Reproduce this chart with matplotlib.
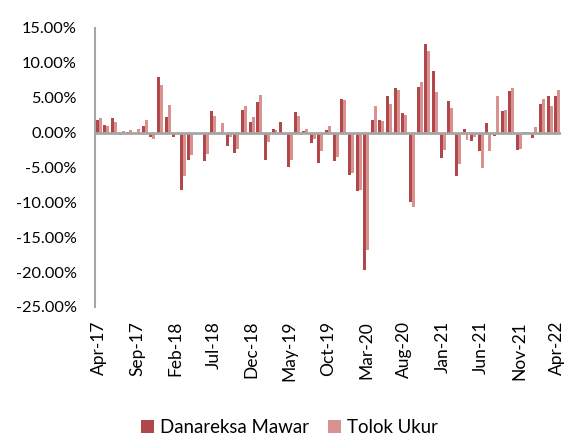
import matplotlib
matplotlib.use("Agg")
import matplotlib.pyplot as plt
import numpy as np

# monthly returns (%), Apr-17 .. Apr-22
months = ["Apr-17", "May-17", "Jun-17", "Jul-17", "Aug-17", "Sep-17", "Oct-17", "Nov-17",
          "Dec-17", "Jan-18", "Feb-18", "Mar-18", "Apr-18", "May-18", "Jun-18", "Jul-18",
          "Aug-18", "Sep-18", "Oct-18", "Nov-18", "Dec-18", "Jan-19", "Feb-19", "Mar-19",
          "Apr-19", "May-19", "Jun-19", "Jul-19", "Aug-19", "Sep-19", "Oct-19", "Nov-19",
          "Dec-19", "Jan-20", "Feb-20", "Mar-20", "Apr-20", "May-20", "Jun-20", "Jul-20",
          "Aug-20", "Sep-20", "Oct-20", "Nov-20", "Dec-20", "Jan-21", "Feb-21", "Mar-21",
          "Apr-21", "May-21", "Jun-21", "Jul-21", "Aug-21", "Sep-21", "Oct-21", "Nov-21",
          "Dec-21", "Jan-22", "Feb-22", "Mar-22", "Apr-22"]

danareksa_mawar = [1.77, 1.05, 2.06, -0.30, 0.05, -0.15, 0.96, -0.62,
                   7.90, 2.25, -0.57, -8.23, -3.97, -0.05, -4.00, 3.06,
                   0.03, -1.93, -2.87, 3.25, 1.53, 4.35, -3.92, 0.57,
                   1.48, -4.93, 2.92, 0.20, -1.53, -4.40, 0.43, -4.11,
                   4.78, -6.12, -8.42, -19.66, 1.77, 1.77, 5.20, 6.36,
                   2.82, -9.90, 6.55, 12.77, 8.80, -3.59, 4.50, -6.27,
                   0.53, -1.24, -2.63, 1.34, -0.48, 3.11, 5.98, -2.54,
                   0.05, -0.77, 4.16, 5.21, 5.26]

tolok_ukur = [2.06, 0.88, 1.58, 0.22, 0.40, 0.57, 1.77, -0.96,
              6.80, 3.92, -0.08, -6.20, -3.16, -0.24, -3.10, 2.34,
              1.37, -0.70, -2.42, 3.83, 2.25, 5.40, -1.34, 0.38,
              -0.29, -3.88, 2.39, 0.48, -0.96, -2.63, 0.91, -3.49,
              4.73, -5.74, -8.28, -16.84, 3.88, 1.67, 4.16, 6.17,
              2.58, -10.62, 7.27, 11.72, 5.84, -2.44, 3.54, -4.50,
              -1.00, -0.62, -5.02, -2.63, 5.26, 3.25, 6.46, -2.30,
              0.08, 0.81, 4.83, 3.83, 6.08]

series_names = ["Danareksa Mawar", "Tolok Ukur"]
colors = ["#B0474A", "#D8928F"]

plt.rcParams["font.family"] = ["Lato", "DejaVu Sans"]

fig = plt.figure(figsize=(5.64, 4.37), dpi=100)
ax = fig.add_axes([0.1684, 0.2975, 0.8263, 0.6385])

x = np.arange(len(months))
w = 0.39
ax.bar(x - w / 2, danareksa_mawar, width=w, color=colors[0], label=series_names[0])
ax.bar(x + w / 2, tolok_ukur, width=w, color=colors[1], label=series_names[1])

ax.axhline(0, color="#A6A6A6", lw=2, zorder=3)

ax.set_xlim(-0.5, len(months) - 0.5)
ax.set_ylim(-25, 15)
ax.set_yticks(np.arange(-25, 16, 5))
ax.set_yticklabels([f"{v:.2f}%" for v in np.arange(-25, 16, 5)])
ax.set_xticks(x[::5])
ax.set_xticklabels(months[::5], rotation=90)

ax.tick_params(axis="y", length=0, pad=13, labelsize=11.8, colors="black")
ax.tick_params(axis="x", length=0, pad=10, labelsize=12.5)

for s in ["top", "right", "bottom"]:
    ax.spines[s].set_visible(False)
ax.spines["left"].set_color("#A6A6A6")
ax.spines["left"].set_linewidth(1.5)

# legend sits at the very bottom edge, as in the source chart
fig.legend(loc="center", bbox_to_anchor=(0.513, 0.022), ncol=2, frameon=False,
           fontsize=13.4, handlelength=0.7, handleheight=0.7, handletextpad=0.35,
           columnspacing=1.0, borderpad=0.1)

fig.savefig("out.png", dpi=100)
